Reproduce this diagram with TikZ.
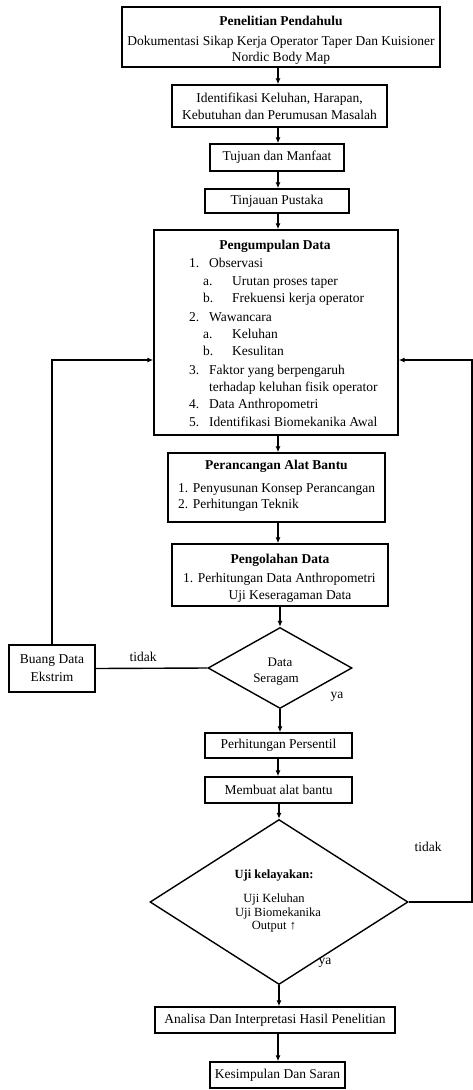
\documentclass[tikz,border=0pt]{standalone}
\usepackage{fontspec}
\setmainfont{Liberation Serif}
\usetikzlibrary{arrows.meta,shapes.geometric}
\begin{document}
\begin{tikzpicture}[x=1pt,y=-1pt,
  box/.style={draw, line width=1.4pt, inner sep=0pt, align=center, font=\fontsize{13.5}{17}\selectfont},
  dia/.style={draw, line width=1.4pt, shape=diamond, inner sep=0pt},
  txt/.style={inner sep=0pt, font=\fontsize{13.5}{17}\selectfont},
  stxt/.style={inner sep=0pt, font=\fontsize{12.5}{15}\selectfont},
  link/.style={line width=1.4pt},
  arr/.style={line width=1.4pt, -{Latex[length=6pt,width=5pt]}}]
\useasboundingbox (0,0) rectangle (473,1090);
\coordinate (sp) at (278,0);
% boxes
\node[box, minimum width=318pt, minimum height=60pt] (b1) at (281,37) {};
\node[box, minimum width=215pt, minimum height=42pt] (b2) at (279.5,106) {Identifikasi Keluhan, Harapan,\\Kebutuhan dan Perumusan Masalah};
\node[box, minimum width=134pt, minimum height=27pt] (b3) at (277,157.5) {Tujuan dan Manfaat};
\node[box, minimum width=144pt, minimum height=24pt] (b4) at (277,201) {Tinjauan Pustaka};
\node[box, minimum width=244pt, minimum height=205pt] (b5) at (276,332.5) {};
\node[box, minimum width=217pt, minimum height=69pt] (b6) at (276.5,487.5) {};
\node[box, minimum width=216pt, minimum height=62pt] (b7) at (280,575) {};
\node[dia, minimum width=144pt, minimum height=81pt] (d1) at (280,668) {};
\node[box, minimum width=86pt, minimum height=47pt] (bu) at (52,668.5) {};
\node[box, minimum width=147pt, minimum height=25pt] (p1) at (278.5,745.5) {Perhitungan Persentil};
\node[box, minimum width=147pt, minimum height=26pt] (p2) at (278.5,790) {Membuat alat bantu};
\node[dia, minimum width=258pt, minimum height=165pt] (d2) at (279,902) {};
\node[box, minimum width=240pt, minimum height=26pt] (p3) at (275,1020) {Analisa Dan Interpretasi Hasil Penelitian};
\node[box, minimum width=135pt, minimum height=26pt] (p4) at (277.5,1075) {Kesimpulan Dan Saran};
% box 1 text
\node[txt, anchor=base] (t1a) at (281,25.5) {\textbf{Penelitian Pendahulu}};
\node[txt, anchor=base] (t1b) at (281,45.5) {Dokumentasi Sikap Kerja Operator Taper Dan Kuisioner};
\node[txt, anchor=base] (t1c) at (281,61.5) {Nordic Body Map};
% box 5 text
\node[txt, anchor=base] (t5) at (275,249.5) {\textbf{Pengumpulan Data}};
\foreach \n/\xn/\xt/\yb/\a/\b in {
  1/189/209/267.5/1./Observasi,
  2/203/232/285.5/a./Urutan proses taper,
  3/203/232/302.5/b./Frekuensi kerja operator,
  4/189/209/321.5/2./Wawancara,
  5/203/232/338.5/a./Keluhan,
  6/203/232/355.5/b./Kesulitan,
  7/189/209/374.5/3./Faktor yang berpengaruh,
  9/189/209/408.5/4./Data Anthropometri,
  10/189/209/426.5/5./Identifikasi Biomekanika Awal}{
  \node[txt, anchor=base west] (n\n) at (\xn,\yb) {\a};
  \node[txt, anchor=base west] (l\n) at (\xt,\yb) {\b};
}
\node[txt, anchor=base west] (l8) at (209,391.5) {terhadap keluhan fisik operator};
% box 6 text
\node[txt, anchor=base] (t6) at (276.5,469.5) {\textbf{Perancangan Alat Bantu}};
\node[txt, anchor=base west] (t6a) at (178,492.5) {1. Penyusunan Konsep Perancangan};
\node[txt, anchor=base west] (t6b) at (178,508.5) {2. Perhitungan Teknik};
% box 7 text
\node[txt, anchor=base] (t7) at (280,563.5) {\textbf{Pengolahan Data}};
\node[txt, anchor=base west] (t7a) at (183,582.5) {1. Perhitungan Data Anthropometri};
\node[txt, anchor=base] (t7b) at (290,599.5) {Uji Keseragaman Data};
% diamond 1 text
\node[txt, font=\fontsize{13}{15}\selectfont, anchor=base] (td1a) at (280,666) {Data};
\node[txt, font=\fontsize{13}{15}\selectfont, anchor=base] (td1b) at (276,682) {Seragam};
% buang text
\node[txt, anchor=base] (tba) at (52,663.5) {Buang Data};
\node[txt, anchor=base] (tbb) at (52,681.5) {Ekstrim};
% diamond 2 text
\node[stxt, anchor=base] (td2a) at (274,878) {\textbf{Uji kelayakan:}};
\node[stxt, anchor=base] (td2b) at (274,902) {Uji Keluhan};
\node[stxt, anchor=base] (td2c) at (278,916) {Uji Biomekanika};
\node[stxt, anchor=base] (td2d) at (274,929) {Output ↑};
% labels
\node[txt, anchor=base] (lt1) at (143,661) {tidak};
\node[txt, anchor=base] (ly1) at (337,698) {ya};
\node[txt, anchor=base] (lt2) at (428,851) {tidak};
\node[txt, anchor=base] (ly2) at (325,964) {ya};
% connectors
\draw[arr] (b1.south -| sp) -- (b2.north -| sp);
\draw[arr] (b2.south -| sp) -- (b3.north -| sp);
\draw[arr] (b3.south -| sp) -- (b4.north -| sp);
\draw[arr] (b4.south -| sp) -- (b5.north -| sp);
\draw[arr] (b5.south -| sp) -- (b6.north -| sp);
\draw[arr] (b6.south -| sp) -- (b7.north -| sp);
\draw[arr] (b7.south -| d1.north) -- (d1.north);
\draw[arr] (d1.south) -- (d1.south |- p1.north);
\draw[arr] (p1.south -| sp) -- (p2.north -| sp);
\draw[arr] (p2.south -| d2.north) -- (d2.north);
\draw[arr] (d2.south) -- (d2.south |- p3.north);
\draw[arr] (p3.south -| sp) -- (p4.north -| sp);
\draw[link] (d1.west) -- (bu.east);
\coordinate (fy) at (0,360);
\coordinate (rx) at (472,360);
\draw[arr] (bu.north) |- (b5.west |- fy);
\draw[arr] (d2.east) -| (rx) -- (b5.east |- rx);
\end{tikzpicture}
\end{document}
